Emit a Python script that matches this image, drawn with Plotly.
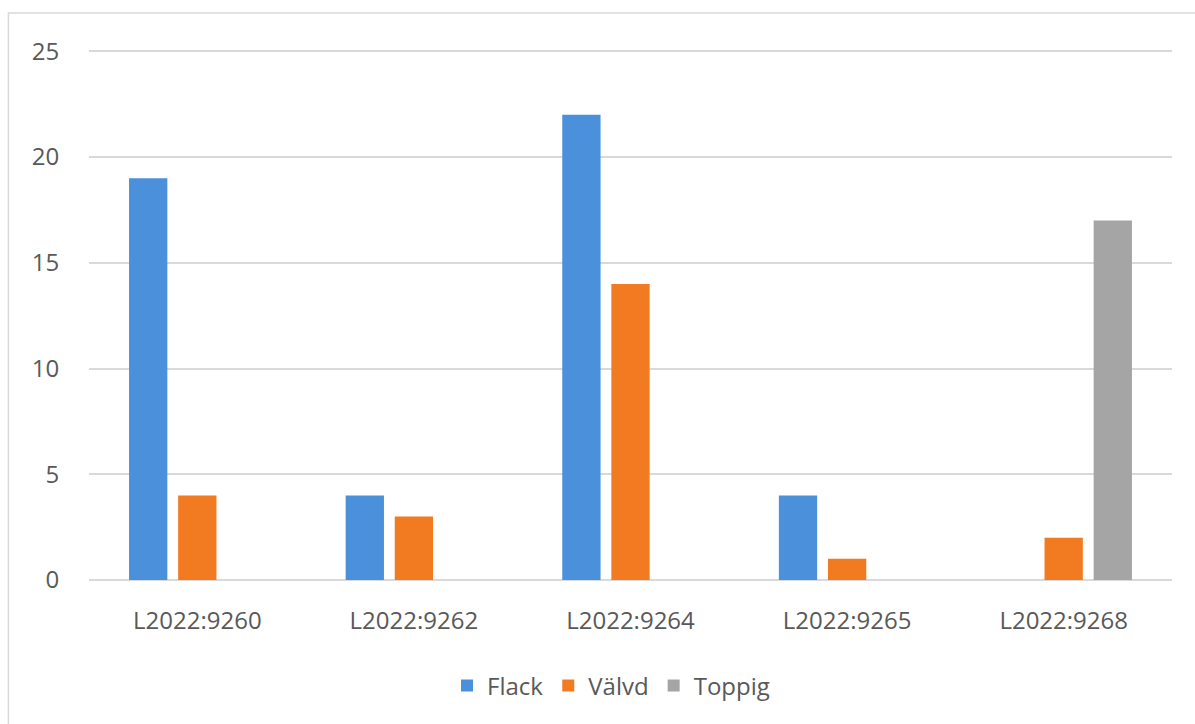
import plotly.graph_objects as go

categories = ["L2022:9260", "L2022:9262", "L2022:9264", "L2022:9265", "L2022:9268"]
flack = [19, 4, 22, 4, 0]
valvd = [4, 3, 14, 1, 2]
toppig = [0, 0, 0, 0, 17]
y_ticks = [0, 5, 10, 15, 20, 25]

colors = {"Flack": "#4A90DA", "Välvd": "#F27B22", "Toppig": "#A5A5A5"}
font_family = "Open Sans, Noto Sans, sans-serif"
text_color = "#595959"

fig = go.Figure()
for name, vals in [("Flack", flack), ("Välvd", valvd), ("Toppig", toppig)]:
    fig.add_trace(go.Bar(x=categories, y=vals, name=name,
                         marker=dict(color=colors[name], line=dict(width=0))))

fig.update_layout(
    width=1195, height=724,
    margin=dict(l=89, r=23, t=50, b=144),
    paper_bgcolor="white", plot_bgcolor="white",
    barmode="group", bargap=0.32, bargroupgap=0.22,
    font=dict(family=font_family, size=24, color=text_color),
    showlegend=True,
    legend=dict(orientation="h", x=0.482, xanchor="center", y=-0.2, yanchor="middle",
                font=dict(size=24, color=text_color), itemwidth=30,
                traceorder="normal"),
    xaxis=dict(showgrid=False, showline=False, ticks="outside", ticklen=19,
               tickcolor="rgba(0,0,0,0)", tickfont=dict(size=24, color=text_color)),
    yaxis=dict(range=[0, 25.06], tickvals=y_ticks, showgrid=True, gridcolor="#D9D9D9",
               gridwidth=1.5, zeroline=True, zerolinecolor="#D9D9D9", zerolinewidth=1.5,
               showline=False, ticks="outside", ticklen=24, tickcolor="rgba(0,0,0,0)",
               tickfont=dict(size=24, color=text_color)),
    shapes=[dict(type="rect", xref="paper", yref="paper",
                 x0=-0.0744, x1=1.03, y0=-0.29, y1=1.0698,
                 line=dict(color="#D9D9D9", width=1.5), fillcolor="rgba(0,0,0,0)",
                 layer="below")],
)

fig.write_html("out.html", config={"displayModeBar": False},
               post_script="document.body.style.margin='0';")
